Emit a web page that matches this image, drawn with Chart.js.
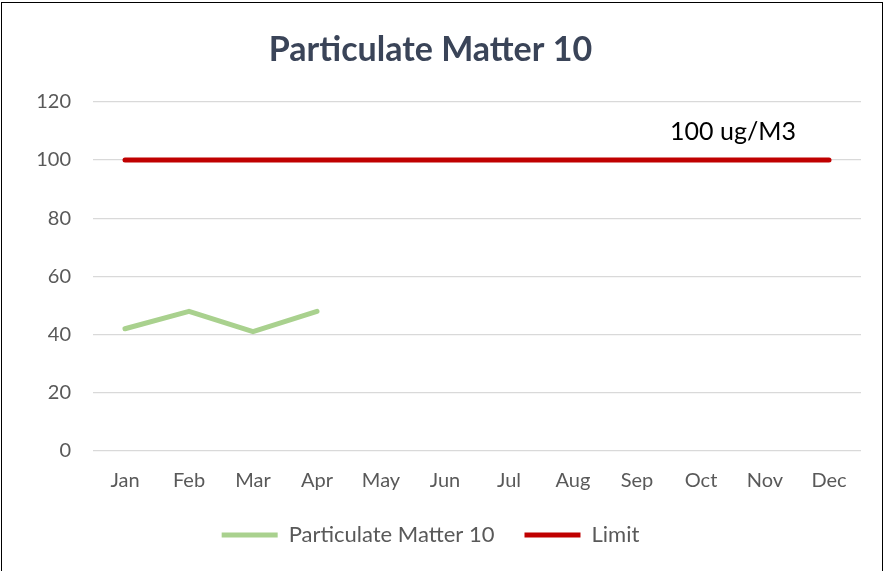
<!DOCTYPE html>
<html>
<head>
<meta charset="utf-8">
<script src="https://cdn.jsdelivr.net/npm/chart.js@4"></script>
<style>
  html, body { margin: 0; padding: 0; background: #fff; overflow: hidden; }
  #wrap { position: absolute; left: 0; top: 0; width: 884px; height: 571px; }
  #frame { position: absolute; left: 1px; top: 2px; width: 880px; height: 600px; border: 1.5px solid #000; pointer-events: none; }
</style>
</head>
<body>
<div id="wrap"><canvas id="chart" width="884" height="571"></canvas></div>
<div id="frame"></div>
<script>
var months = ['Jan', 'Feb', 'Mar', 'Apr', 'May', 'Jun', 'Jul', 'Aug', 'Sep', 'Oct', 'Nov', 'Dec']
var pm10Values = [42, 48, 41, 48, null, null, null, null, null, null, null, null]
var limitValues = [100, 100, 100, 100, 100, 100, 100, 100, 100, 100, 100, 100]
var yTicks = [0, 20, 40, 60, 80, 100, 120]
var limitLabel = '100 ug/M3'

var FONT = 'Lato, "Open Sans", sans-serif'

// writes the limit label above the red line
var limitText = {
  id: 'limitText',
  afterDatasetsDraw: function (chart) {
    var ctx = chart.ctx
    var x = chart.scales.x.getPixelForValue(9.5)
    var y = chart.scales.y.getPixelForValue(limitValues[10])
    ctx.save()
    ctx.font = '25px ' + FONT
    ctx.fillStyle = '#000'
    ctx.textAlign = 'center'
    ctx.textBaseline = 'middle'
    ctx.fillText(limitLabel, x, y - 28)
    ctx.restore()
  },
}

new Chart(document.getElementById('chart'), {
  type: 'line',
  data: {
    labels: months,
    datasets: [
      {
        label: 'Particulate Matter 10',
        data: pm10Values,
        borderColor: '#A9D18E',
        backgroundColor: '#A9D18E',
        borderWidth: 5,
        borderCapStyle: 'round',
        borderJoinStyle: 'round',
        pointRadius: 0,
        tension: 0,
      },
      {
        label: 'Limit',
        data: limitValues,
        borderColor: '#C00000',
        backgroundColor: '#C00000',
        borderWidth: 5,
        borderCapStyle: 'round',
        pointRadius: 0,
        tension: 0,
      },
    ],
  },
  options: {
    responsive: false,
    animation: false,
    layout: { padding: { left: 0, right: 23, top: 20, bottom: 15 } },
    scales: {
      x: {
        offset: true,
        grid: { display: false },
        border: { display: false },
        afterFit: function (scale) { scale.height = 43 },
        ticks: { color: '#595959', font: { family: FONT, size: 20 }, padding: 10, maxRotation: 0 },
      },
      y: {
        min: 0,
        max: 120,
        afterBuildTicks: function (scale) {
          scale.ticks = yTicks.map(function (v) { return { value: v } })
        },
        afterFit: function (scale) { scale.width = 93 },
        grid: { color: '#D9D9D9', lineWidth: 1.3, drawTicks: false },
        border: { display: false },
        ticks: { color: '#595959', font: { family: FONT, size: 20 }, padding: 22 },
      },
    },
    plugins: {
      title: {
        display: true,
        text: 'Particulate Matter 10',
        color: '#3A4458',
        font: { family: FONT, size: 34, weight: 'bold' },
        padding: { top: 10, bottom: 31 },
      },
      legend: {
        position: 'bottom',
        labels: {
          color: '#595959',
          font: { family: FONT, size: 22 },
          usePointStyle: true,
          pointStyleWidth: 56,
          pointStyle: 'line',
          boxHeight: 5,
          padding: 30,
        },
      },
      tooltip: { enabled: false },
    },
  },
  plugins: [limitText],
})
</script>
</body>
</html>
